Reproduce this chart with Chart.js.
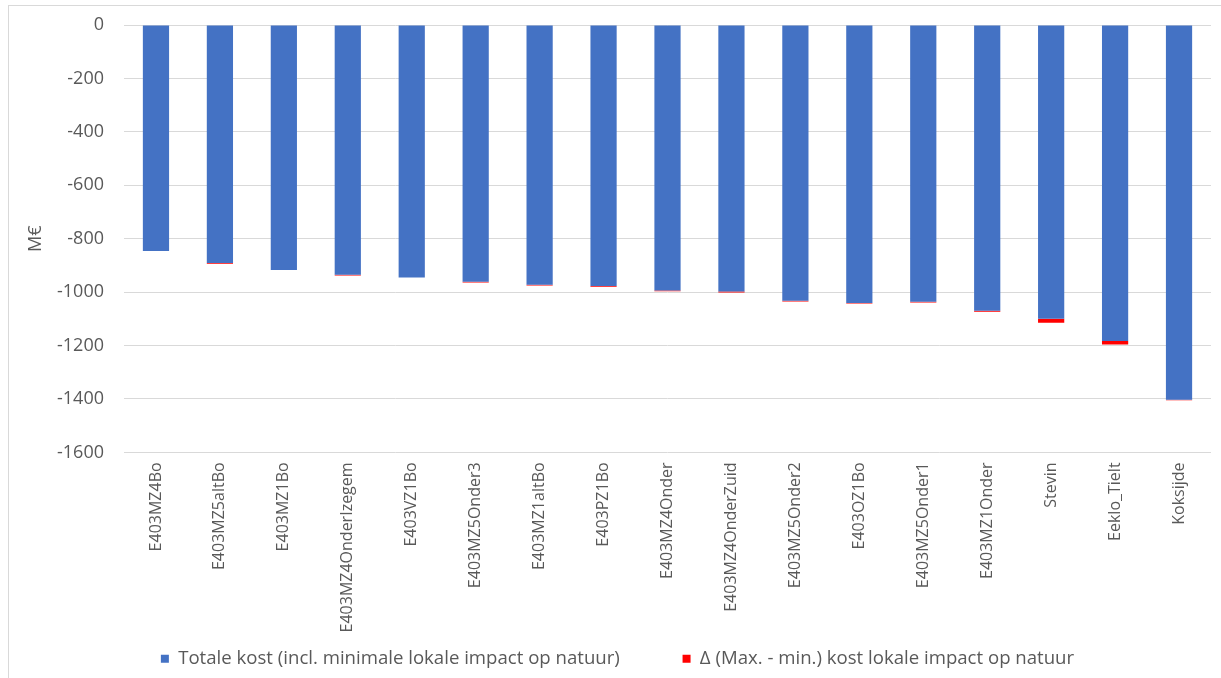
<!DOCTYPE html>
<html>
<head>
<meta charset="utf-8">
<script src="https://cdn.jsdelivr.net/npm/chart.js@4.4.1/dist/chart.umd.min.js"></script>
<style>
  html, body { margin: 0; padding: 0; background: #ffffff; }
  #frame {
    position: absolute; left: 8px; top: 5px; width: 1230px; height: 690px;
    border: 1px solid #d9d9d9; box-sizing: border-box;
  }
  #wrap { position: absolute; left: 0; top: 0; width: 1221px; height: 678px; }
</style>
</head>
<body>
<div id="frame"></div>
<div id="wrap"><canvas id="chart" width="1221" height="678"></canvas></div>
<script>
// Tracés, gesorteerd van minst tot meest negatieve totale kost
const categories = [
  'E403MZ4Bo', 'E403MZ5altBo', 'E403MZ1Bo', 'E403MZ4OnderIzegem', 'E403VZ1Bo',
  'E403MZ5Onder3', 'E403MZ1altBo', 'E403PZ1Bo', 'E403MZ4Onder', 'E403MZ4OnderZuid',
  'E403MZ5Onder2', 'E403OZ1Bo', 'E403MZ5Onder1', 'E403MZ1Onder', 'Stevin',
  'Eeklo_Tielt', 'Koksijde'
];

// Totale kost incl. minimale lokale impact op natuur (M€)
const totaleKost = [
  -846, -891, -917, -935, -945,
  -961, -972, -977, -994, -998,
  -1032, -1041, -1036, -1070, -1100,
  -1183, -1403
];

// Verschil max. - min. kost lokale impact op natuur (M€)
const deltaNatuur = [
  0, -3, 0, -3, 0,
  -3, -3, -3, -3, -3,
  -3, -2, -3, -3, -15,
  -13, -2
];

const yTicks = [0, -200, -400, -600, -800, -1000, -1200, -1400, -1600];

const seriesNames = [
  'Totale kost (incl. minimale lokale impact op natuur)',
  'Δ (Max. - min.) kost lokale impact op natuur'
];

const FONT = '"Open Sans", Lato, sans-serif';
const TEXT = '#595959';

new Chart(document.getElementById('chart'), {
  type: 'bar',
  data: {
    labels: categories,
    datasets: [
      {
        label: seriesNames[0],
        data: totaleKost,
        backgroundColor: '#4472C4',
        borderWidth: 0,
        categoryPercentage: 1,
        barPercentage: 0.41
      },
      {
        label: seriesNames[1],
        data: deltaNatuur,
        backgroundColor: '#FF0000',
        borderWidth: 0,
        categoryPercentage: 1,
        barPercentage: 0.41
      }
    ]
  },
  options: {
    responsive: false,
    animation: false,
    layout: { padding: { left: 24, right: 10, top: 25, bottom: 0 } },
    plugins: {
      tooltip: { enabled: false },
      legend: {
        position: 'bottom',
        labels: {
          font: { family: FONT, size: 18.6 },
          color: TEXT,
          boxWidth: 8,
          boxHeight: 8,
          padding: 7,
          // wider gap after the first entry
          generateLabels: (chart) => {
            const items = Chart.defaults.plugins.legend.labels.generateLabels(chart);
            items.forEach((it, i) => {
              if (i < items.length - 1) it.text = it.text + '\u2003\u2003\u2003';
            });
            return items;
          }
        }
      }
    },
    scales: {
      x: {
        stacked: true,
        grid: { display: false, drawTicks: false },
        border: { display: false },
        ticks: {
          font: { family: FONT, size: 16 },
          color: TEXT,
          minRotation: 90,
          maxRotation: 90,
          autoSkip: false,
          padding: 10
        },
        afterFit: (scale) => { scale.height = 190; }
      },
      y: {
        stacked: true,
        min: -1600,
        max: 0,
        afterBuildTicks: (scale) => { scale.ticks = yTicks.map(v => ({ value: v })); },
        grid: { color: '#d9d9d9', lineWidth: 1, drawTicks: false },
        border: { display: false },
        ticks: {
          font: { family: FONT, size: 18 },
          color: TEXT,
          padding: 20,
          callback: (v) => String(v)
        },
        title: {
          display: true,
          text: 'M€',
          font: { family: FONT, size: 18 },
          color: TEXT,
          padding: { top: 1, bottom: 0 }
        },
        afterFit: (scale) => {
          scale.width = 100;
          scale.paddingTop = 0;
          scale.paddingBottom = 0;
        }
      }
    }
  }
});
</script>
</body>
</html>
